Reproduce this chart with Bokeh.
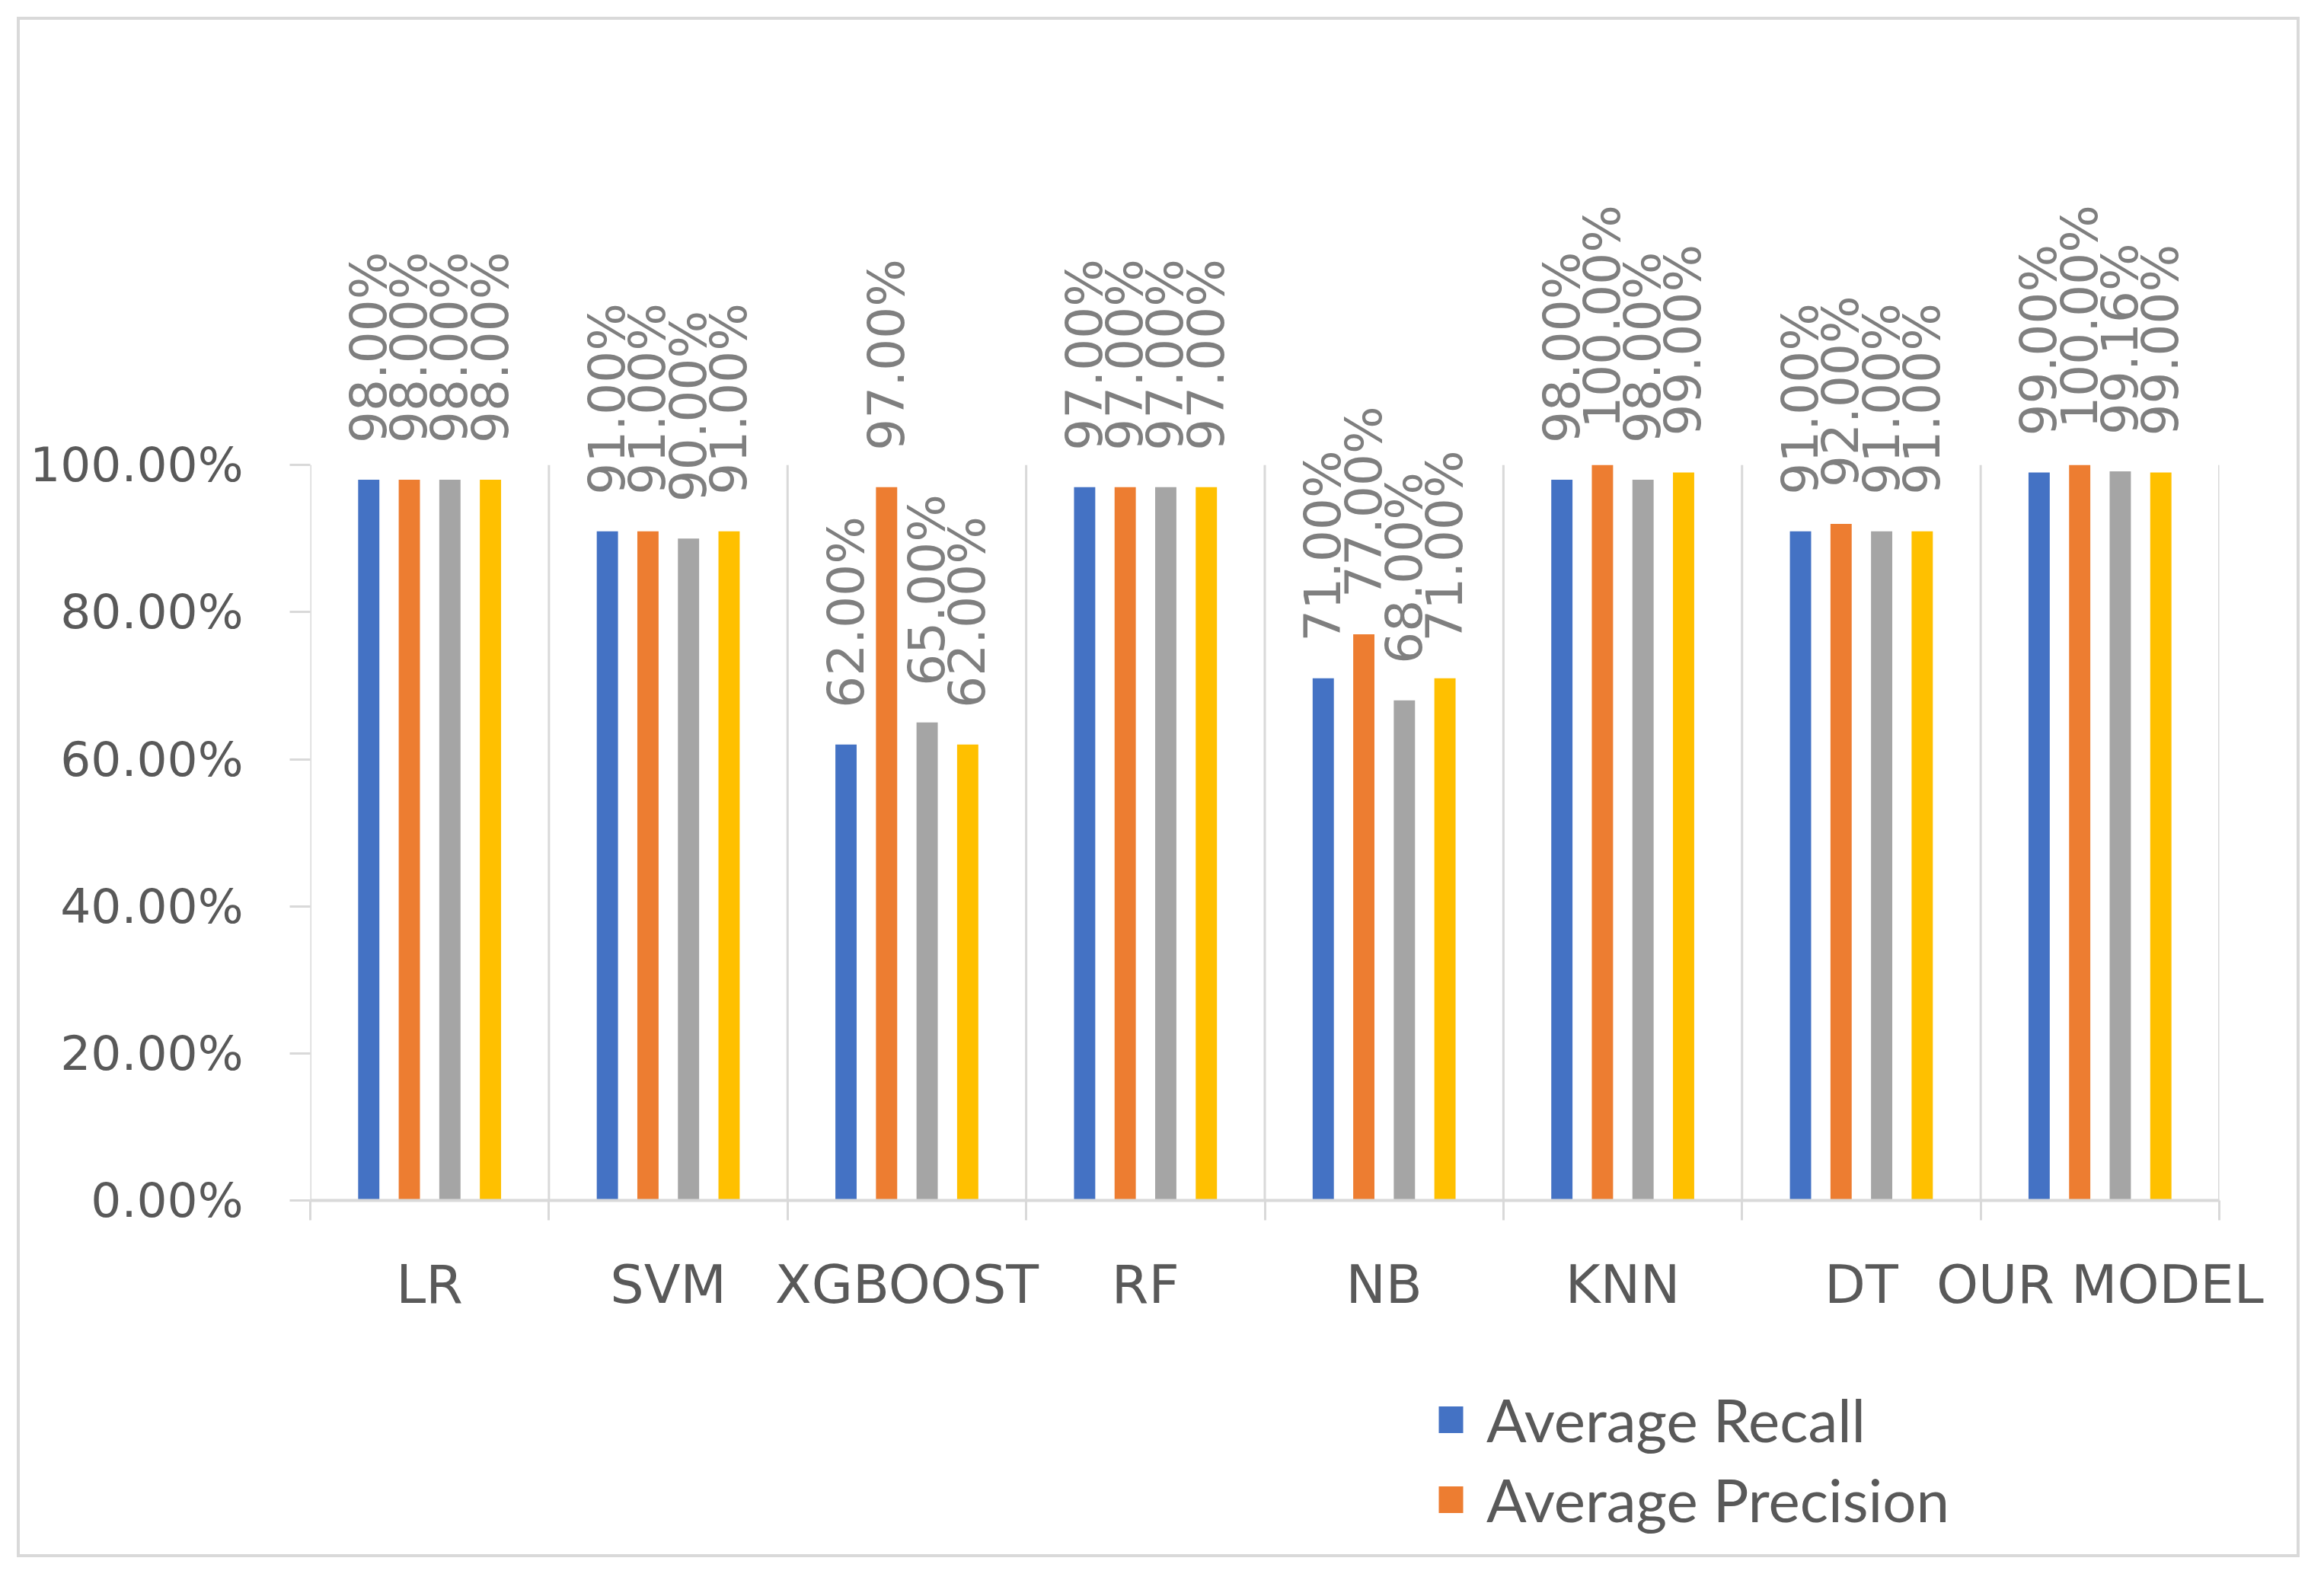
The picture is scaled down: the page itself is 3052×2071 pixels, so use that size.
import math
from bokeh.plotting import figure
from bokeh.layouts import column
from bokeh.models import (FixedTicker, Legend, LegendItem, Range1d,
                          PrintfTickFormatter)
from bokeh.embed import file_html
from bokeh.resources import INLINE
from bokeh.core.properties import value

# ---------------- data ----------------
models = ["LR", "SVM", "XGBOOST", "RF", "NB", "KNN", "DT", "OUR MODEL"]
avg_recall = [98.00, 91.00, 62.00, 97.00, 71.00, 98.00, 91.00, 99.00]
avg_precision = [98.00, 91.00, 97.00, 97.00, 77.00, 100.00, 92.00, 100.00]
avg_f1 = [98.00, 90.00, 65.00, 97.00, 68.00, 98.00, 91.00, 99.16]
accuracy = [98.00, 91.00, 62.00, 97.00, 71.00, 99.00, 91.00, 99.00]
series_names = ["Average Recall", "Average Precision", "Average F1-Score", "Accuracy"]
y_ticks = [0, 20, 40, 60, 80, 100]

series = [avg_recall, avg_precision, avg_f1, accuracy]
colors = ["#4472C4", "#ED7D31", "#A5A5A5", "#FFC000"]
offsets = [-0.255, -0.085, 0.085, 0.255]
bar_w = 0.089
grid_col = "#D9D9D9"
tick_font = "DejaVu Sans"
W = 2990

p = figure(width=W, height=1750, x_range=Range1d(0, len(models)),
           y_range=Range1d(0, 140), output_backend="svg", toolbar_location=None,
           min_border_left=381, min_border_right=102, min_border_top=198,
           min_border_bottom=200)
p.outline_line_color = None
p.background_fill_color = "white"
p.border_fill_color = "white"
p.xgrid.visible = False
p.ygrid.visible = False

# x axis: category boundaries as minor ticks, labels at centres
centers = [i + 0.5 for i in range(len(models))]
bounds = list(range(len(models) + 1))
xa = p.xaxis[0]
xa.ticker = FixedTicker(ticks=centers, minor_ticks=bounds)
xa.major_label_overrides = {c: m for c, m in zip(centers, models)}
xa.major_tick_line_color = None
xa.major_tick_out = 0
xa.major_tick_in = 0
xa.minor_tick_out = 26
xa.minor_tick_in = 0
xa.minor_tick_line_color = grid_col
xa.minor_tick_line_width = 3
xa.axis_line_color = grid_col
xa.axis_line_width = 4
xa.major_label_text_font = tick_font
xa.major_label_text_font_size = "70px"
xa.major_label_text_color = "#595959"
xa.major_label_standoff = 43

# y axis
ya = p.yaxis[0]
ya.ticker = FixedTicker(ticks=y_ticks, minor_ticks=[])
ya.formatter = PrintfTickFormatter(format="%.2f%%")
ya.axis_line_color = None
ya.major_tick_out = 27
ya.major_tick_in = 0
ya.major_tick_line_color = grid_col
ya.major_tick_line_width = 3
ya.minor_tick_line_color = None
ya.major_label_text_font = tick_font
ya.major_label_text_font_size = "63px"
ya.major_label_text_color = "#595959"
ya.major_label_standoff = 61

# vertical separators (incl. y-axis line and right edge), from 0 to 100 %
p.segment(x0=bounds, x1=bounds, y0=[0] * len(bounds), y1=[y_ticks[-1]] * len(bounds),
          line_color=grid_col, line_width=3)

for vals, col, off in zip(series, colors, offsets):
    xs = [c + off for c in centers]
    p.vbar(x=xs, top=vals, bottom=0, width=bar_w, fill_color=col, line_color=None)
    p.text(x=xs, y=vals, text=[f"{v:.2f}%" for v in vals], angle=math.pi / 2,
           text_align="left", text_baseline="middle", y_offset=-48,
           text_font=value(tick_font), text_font_size="66px", text_color="#7F7F7F")

# ---------------- legend strip below the chart ----------------
pl = figure(width=W, height=265, x_range=Range1d(0, len(models)), y_range=Range1d(0, 140),
            output_backend="svg", toolbar_location=None,
            x_axis_location=None, y_axis_location=None,
            min_border_left=381, min_border_right=102, min_border_top=0,
            min_border_bottom=0)
pl.outline_line_color = None
pl.xgrid.visible = False
pl.ygrid.visible = False
pl.background_fill_color = "white"
pl.border_fill_color = "white"
legend_renderers = []
for vals, col, off in list(zip(series, colors, offsets))[:2]:
    r = pl.vbar(x=[c + off for c in centers], top=vals, bottom=0, width=bar_w,
                fill_color=col, line_color=None)
    r.visible = False          # only its legend key is shown in this strip
    legend_renderers.append(r)

legend = Legend(items=[LegendItem(label=series_names[0], renderers=[legend_renderers[0]]),
                       LegendItem(label=series_names[1], renderers=[legend_renderers[1]])],
                location=(1478, 25), orientation="vertical",
                glyph_width=40, glyph_height=44, label_height=95, spacing=10,
                padding=0, margin=0, label_standoff=27,
                label_text_font="Lato", label_text_font_size="78px",
                label_text_color="#595959", border_line_color=None,
                background_fill_alpha=0, inactive_fill_alpha=0)
pl.add_layout(legend)

layout = column(p, pl, spacing=0)
layout.margin = (22, 0, 0, 22)
layout.styles = {"border": "4px solid #D9D9D9"}

open("out.html", "w").write(file_html(layout, INLINE))
